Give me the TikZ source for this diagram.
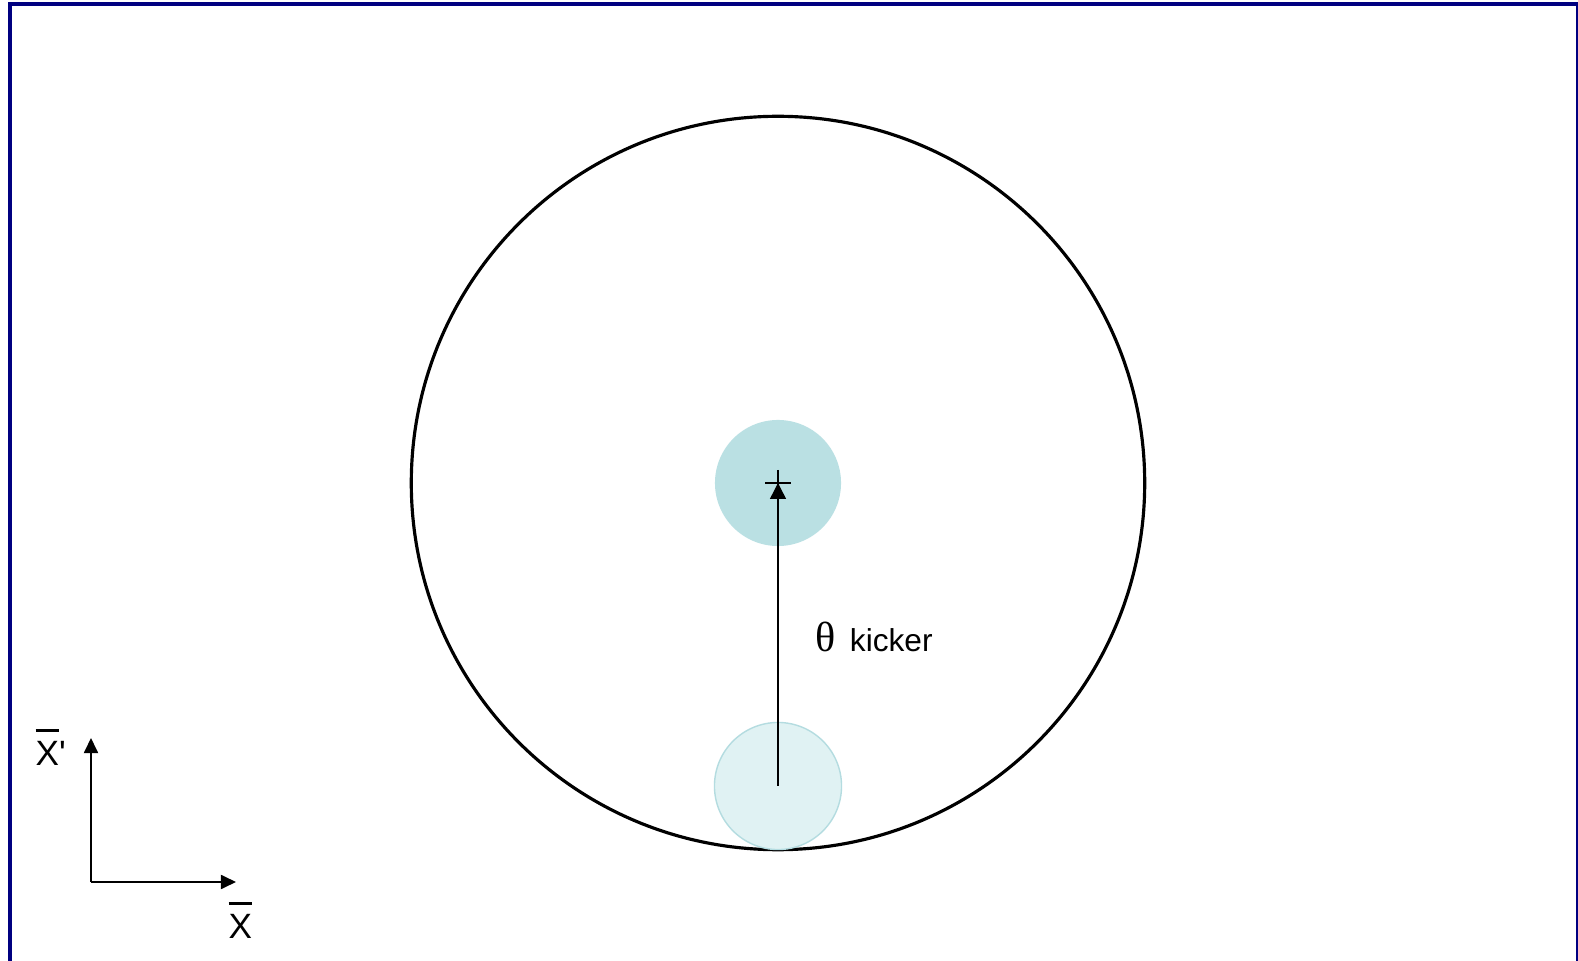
\documentclass[tikz,border=0pt]{standalone}
\usepackage{fontspec}
\setmainfont{Liberation Sans}
\newfontfamily\plainsans{Liberation Sans}
\newfontfamily\thetafont{Liberation Serif}
\usetikzlibrary{arrows.meta}
\definecolor{framenavy}{HTML}{000080}
\definecolor{beamfill}{HTML}{BAE0E3}
\definecolor{startfill}{HTML}{E0F2F3}
\definecolor{startline}{HTML}{B4DCE0}
\newcommand{\obarx}[1]{\leavevmode\vbox{\hrule height 0.65pt\kern 2.9pt\hbox{#1}}}
\begin{document}
\begin{tikzpicture}[x=0.01cm,y=-0.01cm,
  ring/.style={circle,draw=black,line width=0.9pt,minimum size=7.33cm,inner sep=0pt},
  beamball/.style={circle,fill=beamfill,minimum size=1.26cm,inner sep=0pt},
  startball/.style={circle,fill=startfill,draw=startline,line width=0.4pt,minimum size=1.27cm,inner sep=0pt},
  kick/.style={line width=0.4pt,-{Triangle[length=4.5pt,width=4.5pt]}},
  axisarrow/.style={line width=0.55pt,-{Triangle[length=4.3pt,width=4pt]}},
  lbl/.style={inner sep=0pt,font=\plainsans\fontsize{9}{11}\selectfont},
  axlbl/.style={inner sep=0pt,font=\plainsans\fontsize{10}{12}\selectfont}]
\useasboundingbox (0,0) rectangle (1578,961);
\clip (0,0) rectangle (1578,961);
\fill[white] (0,0) rectangle (1578,961);
\draw[framenavy,line width=1.14pt] (10,4) rectangle (1578,990);
% ring and beams
\node[ring] (ring) at (778,483) {};
\node[beamball] (beam) at (778,483) {};
\node[startball] (start) at (778,786) {};
% cross at closed orbit
\coordinate (cl) at (765,483);
\coordinate (cr) at (791,483);
\coordinate (ct) at (778,470);
\coordinate (cb) at (778,496);
\draw[line width=0.4pt] (cl) -- (cr) (ct) -- (cb);
% kick arrow
\draw[kick] (start.center) -- (beam.center);
\node[lbl,anchor=base west] (theta) at (815,652) {{\thetafont\fontsize{12}{14}\selectfont θ}\hspace{0.14cm}kicker};
% axes
\coordinate (o) at (91,882);
\coordinate (ytip) at (91,738);
\coordinate (xtip) at (236,882);
\draw[axisarrow] (o) -- (ytip);
\draw[axisarrow] (o) -- (xtip);
\node[axlbl,anchor=base west] (xplabel) at (35,766) {\obarx{X}'};
\node[axlbl,anchor=base west] (xlabel) at (228,939) {\obarx{X}};
\end{tikzpicture}
\end{document}
